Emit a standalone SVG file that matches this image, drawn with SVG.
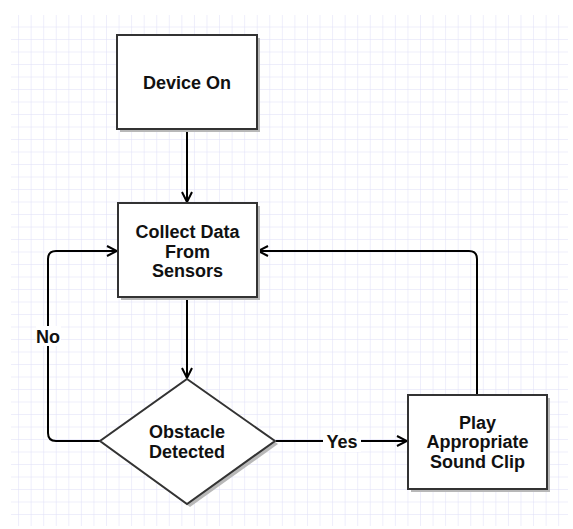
<svg xmlns="http://www.w3.org/2000/svg" width="573" height="529" viewBox="0 0 573 529">
<defs>
<pattern id="grid" x="6.5" y="2.5" width="12.56" height="12.5" patternUnits="userSpaceOnUse">
<path d="M12.56 0 V12.5 M0 12.5 H12.56" fill="none" stroke="#dedef8" stroke-width="1"/>
</pattern>
<marker id="arr" viewBox="0 0 12 12" refX="11" refY="6" markerWidth="12" markerHeight="12" markerUnits="userSpaceOnUse" orient="auto">
<path d="M1 1 L11 6 L1 11" fill="none" stroke="#000" stroke-width="2"/>
</marker>
</defs>
<style>
.box{fill:#fff;stroke:#333;stroke-width:2}
.shadow{fill:#b8b8b8}
.t{font-family:"Liberation Sans",Arial,sans-serif;font-weight:bold;font-size:18px;fill:#111;text-anchor:middle}
.c{fill:none;stroke:#000;stroke-width:2}
.lbl{fill:#fff}
</style>
<rect width="573" height="529" fill="#fff"/>
<rect x="11" y="15" width="557" height="511" fill="url(#grid)"/>
<g id="connectors">
<path class="c" d="M187 130 V202" marker-end="url(#arr)"/>
<path class="c" d="M187 298 V378" marker-end="url(#arr)"/>
<path class="c" d="M100 441 H56 Q48 441 48 433 V259 Q48 251 56 251 H117" marker-end="url(#arr)"/>
<path class="c" d="M276 441 H407" marker-end="url(#arr)"/>
<path class="c" d="M477 394 V259 Q477 251 469 251 H258" marker-end="url(#arr)"/>
<rect class="lbl" x="36" y="326" width="25" height="20"/>
<text class="t" x="48" y="343">No</text>
<rect class="lbl" x="323" y="432" width="38" height="20"/>
<text class="t" x="342" y="448">Yes</text>
</g>
<g id="device-on">
<rect class="shadow" x="120" y="38" width="140" height="94"/>
<rect class="box" x="117" y="35" width="140" height="94"/>
<text class="t" x="187" y="89">Device On</text>
</g>
<g id="collect-data">
<rect class="shadow" x="121" y="206" width="139" height="94"/>
<rect class="box" x="118" y="203" width="139" height="94"/>
<text class="t" x="187.5" y="238">Collect Data</text>
<text class="t" x="187.5" y="258">From</text>
<text class="t" x="187.5" y="277">Sensors</text>
</g>
<g id="obstacle-detected">
<polygon class="shadow" points="190,382 278,444 190,507 103,444"/>
<polygon class="box" points="187,379 275,441 187,504 100,441"/>
<text class="t" x="187" y="438">Obstacle</text>
<text class="t" x="187" y="458">Detected</text>
</g>
<g id="play-sound">
<rect class="shadow" x="411" y="398" width="139" height="94"/>
<rect class="box" x="408" y="395" width="139" height="94"/>
<text class="t" x="477.5" y="429">Play</text>
<text class="t" x="477.5" y="448">Appropriate</text>
<text class="t" x="477.5" y="468">Sound Clip</text>
</g>
</svg>
